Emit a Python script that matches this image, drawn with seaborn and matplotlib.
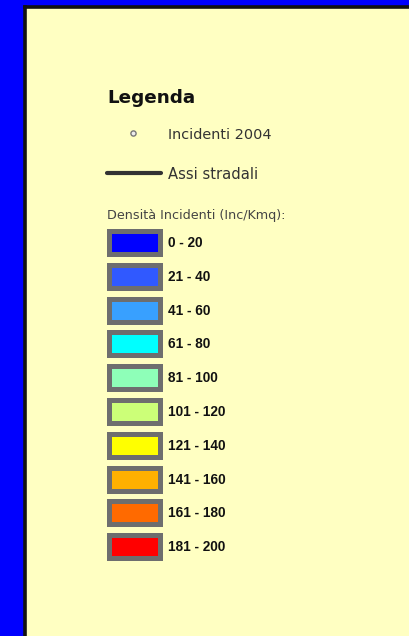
import numpy as np
import pandas as pd
import seaborn as sns
import matplotlib.pyplot as plt
from matplotlib.path import Path

# legend content
title = "Legenda"
point_label = "Incidenti 2004"
road_label = "Assi stradali"
density_title = "Densità Incidenti (Inc/Kmq):"
class_labels = ["0 - 20", "21 - 40", "41 - 60", "61 - 80", "81 - 100",
                "101 - 120", "121 - 140", "141 - 160", "161 - 180", "181 - 200"]
class_colors = ["#0000FF", "#3059FF", "#38A0FF", "#00FFFF", "#8EFFB8",
                "#CCFF78", "#FFFF00", "#FFB000", "#FF6A00", "#FF0000"]

W, H = 410, 636
sns.set_theme(style="white")

fig = plt.figure(figsize=(W / 100, H / 100), dpi=100)
fig.patch.set_facecolor("#0000FF")
# panel in pixel coordinates (left blue margin ~25px, top ~6px)
ax = fig.add_axes([25.5 / W, 0, 1 - 25.5 / W, 1 - 6.5 / H])
ax.set_facecolor("#FFFFC2")
ax.set_xlim(25.5, W)
ax.set_ylim(H, 6.5)
ax.set_xticks([])
ax.set_yticks([])
for side in ["right", "bottom"]:
    ax.spines[side].set_visible(False)
for side in ["left", "top"]:
    ax.spines[side].set_color("#111111")
    ax.spines[side].set_linewidth(2.6)

x_sym, x_txt = 135, 168

ax.text(107, 103, title, fontsize=13.2, fontweight="bold", family="DejaVu Sans",
        color="#111111")

# point symbol
sns.scatterplot(x=[133], y=[133], s=14, color="#EDEDED", edgecolor="#777777",
                linewidth=1.0, ax=ax, legend=False)
ax.text(x_txt, 138.5, point_label, fontsize=10.4, family="DejaVu Sans", color="#333333")

# road symbol
sns.lineplot(x=[107.5, 161.5], y=[173, 173], color="#333333", linewidth=3.0,
             solid_capstyle="round", ax=ax, legend=False)
ax.text(x_txt, 178.5, road_label, fontsize=10.6, family="DejaVu Sans", color="#333333")

ax.text(107, 219, density_title, fontsize=9.2, family="DejaVu Sans", color="#444444")

# class boxes
pitch, y0 = 33.8, 242.5
df = pd.DataFrame({"label": class_labels, "color": class_colors})
df["y"] = y0 + pitch * np.arange(len(df))
df["x"] = x_sym

box = Path([(-25.5, -11.5), (25.5, -11.5), (25.5, 11.5), (-25.5, 11.5), (-25.5, -11.5)],
           [Path.MOVETO, Path.LINETO, Path.LINETO, Path.LINETO, Path.CLOSEPOLY])
sns.scatterplot(data=df, x="x", y="y", hue="label", palette=class_colors,
                marker=box, s=(51 * 0.72) ** 2, edgecolor="#6E6E6E",
                linewidth=3.6, ax=ax, legend=False)
ax.collections[-1].set_joinstyle("miter")

for _, row in df.iterrows():
    ax.text(x_txt, row["y"] + 0.5, row["label"], fontsize=9.8, fontweight="bold",
            family=["Liberation Sans", "DejaVu Sans"], color="#111111", va="center")

fig.savefig("out.png", dpi=100, facecolor=fig.get_facecolor())
